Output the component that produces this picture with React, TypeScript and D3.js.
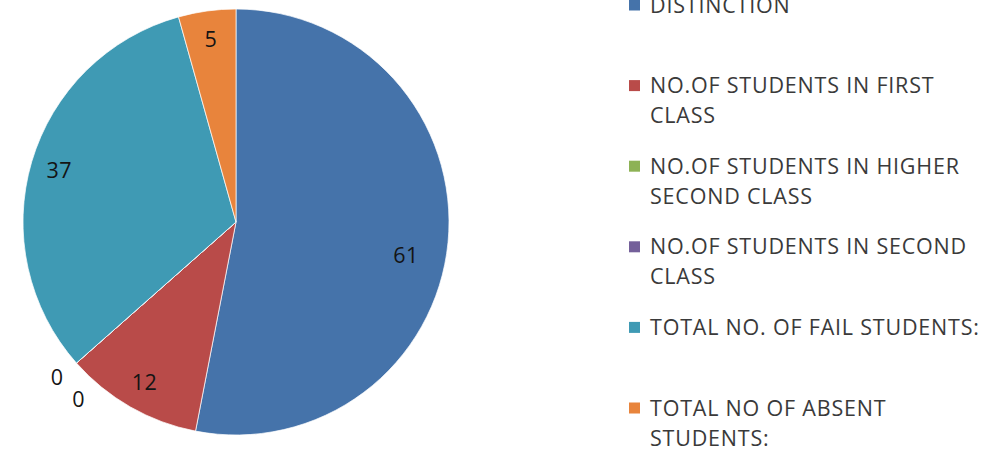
import React from "react";
import * as d3 from "d3";

const categories = [
  "DISTINCTION",
  "NO.OF STUDENTS IN FIRST CLASS",
  "NO.OF STUDENTS IN HIGHER SECOND CLASS",
  "NO.OF STUDENTS IN SECOND CLASS",
  "TOTAL NO. OF FAIL STUDENTS:",
  "TOTAL NO OF ABSENT STUDENTS:",
];
const values = [61, 12, 0, 0, 37, 5];
const colors = ["#4573AA", "#B94B49", "#8DB255", "#74609A", "#3F9AB4", "#E8843C"];

const W = 1000;
const H = 452;
const CX = 236;
const CY = 222;
const R = 213;
const FONT = "'Open Sans', 'DejaVu Sans', sans-serif";
const FS = 21.5;
const LS = 0.8;
const LEGEND_X = 629;
const LEGEND_TEXT_X = 650;
const LEGEND_Y0 = 5;
const LEGEND_STEP = 80.6;
const LEGEND_LINE = 30;
const LEGEND_MAXW = 342;
const SQ = 11;

// style nudges for label placement (angle in degrees, radius in px)
const labelNudge: Record<string, { da: number; dr: number }> = {
  DISTINCTION: { da: 5.5, dr: -11 },
};

let ctx: CanvasRenderingContext2D | null = null;
function measure(text: string): number {
  if (!ctx) ctx = document.createElement("canvas").getContext("2d");
  if (!ctx) return text.length * (FS * 0.62 + LS);
  ctx.font = `${FS}px 'Open Sans'`;
  return ctx.measureText(text).width + text.length * LS;
}

function wrap(text: string): string[] {
  const words = text.split(" ");
  const lines: string[] = [];
  let cur = "";
  for (const w of words) {
    const t = cur ? cur + " " + w : w;
    if (cur && measure(t) > LEGEND_MAXW) {
      lines.push(cur);
      cur = w;
    } else cur = t;
  }
  if (cur) lines.push(cur);
  return lines;
}

export default function App() {
  const pie = d3.pie<number>().sort(null).value((d) => d)(values);
  const arc = d3.arc<d3.PieArcDatum<number>>().innerRadius(0).outerRadius(R);
  const deg = Math.PI / 180;

  let zeroCount = 0;
  const labels = pie.map((p, i) => {
    let a: number;
    let r: number;
    if (p.value === 0) {
      a = p.startAngle + (0.5 - 7.4 * zeroCount) * deg;
      r = R + 24;
      zeroCount++;
    } else {
      const n = labelNudge[categories[i]] || { da: 0, dr: 0 };
      a = (p.startAngle + p.endAngle) / 2 + n.da * deg;
      r = R * 0.865 + n.dr;
    }
    return { x: CX + r * Math.sin(a), y: CY - r * Math.cos(a), text: String(p.value) };
  });

  return (
    <svg
      width={W}
      height={H}
      style={{ position: "absolute", left: 0, top: 0, background: "#fff" }}
      fontFamily={FONT}
    >
      <g transform={`translate(${CX},${CY})`}>
        {pie.map((p, i) => (
          <path key={i} d={arc(p) || ""} fill={colors[i]} stroke="#fff" strokeWidth={1} strokeOpacity={0.7} />
        ))}
      </g>
      {labels.map((l, i) => (
        <text
          key={i}
          x={l.x}
          y={l.y + FS * 0.357}
          textAnchor="middle"
          fontSize={FS}
          letterSpacing={0.5}
          fill="#141414"
        >
          {l.text}
        </text>
      ))}
      {categories.map((c, i) => {
        const y = LEGEND_Y0 + i * LEGEND_STEP;
        const lines = wrap(c);
        return (
          <g key={c}>
            <rect x={LEGEND_X} y={y - SQ / 2} width={SQ} height={SQ} fill={colors[i]} />
            {lines.map((ln, j) => (
              <text
                key={j}
                x={LEGEND_TEXT_X}
                y={y + j * LEGEND_LINE + FS * 0.357}
                fontSize={FS}
                letterSpacing={LS}
                fill="#3a3a3a"
              >
                {ln}
              </text>
            ))}
          </g>
        );
      })}
    </svg>
  );
}
